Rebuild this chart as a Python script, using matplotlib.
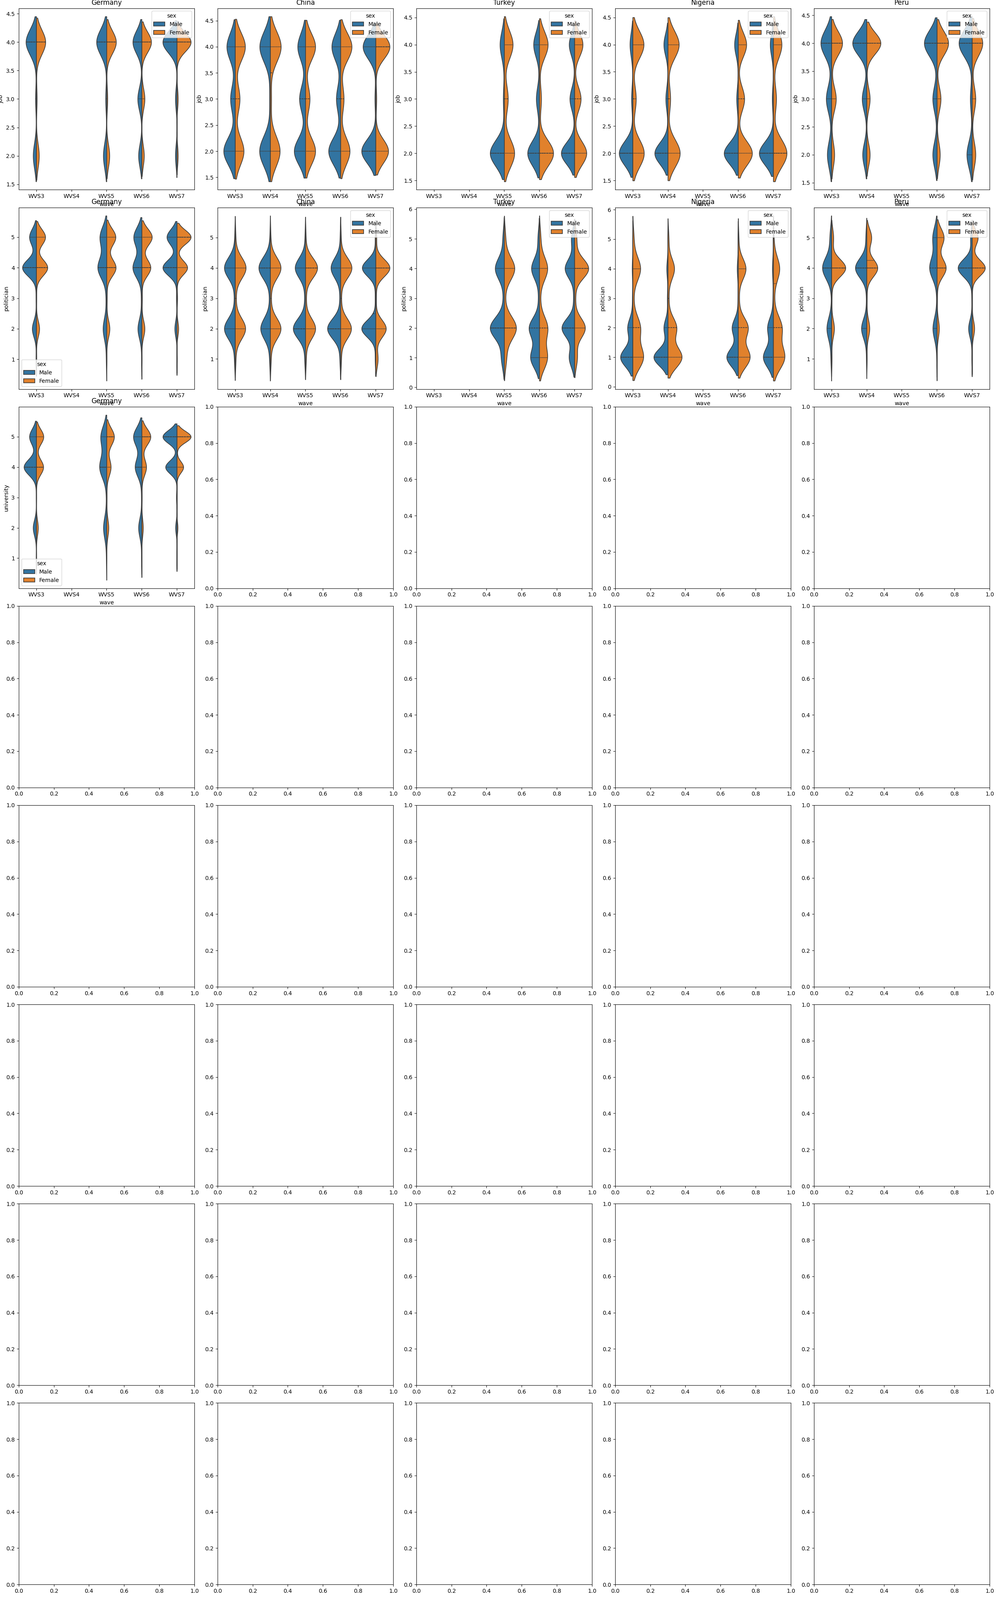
import numpy as np
import pandas as pd
import matplotlib
matplotlib.use("Agg")
import matplotlib.pyplot as plt
import seaborn as sns

waves = ["WVS3", "WVS4", "WVS5", "WVS6", "WVS7"]
sexes = ["Male", "Female"]

job_values = [2, 3, 4]
scale_values = [1, 2, 3, 4, 5]

# waves that exist for each country
germany_waves = ["WVS3", "WVS5", "WVS6", "WVS7"]
china_waves = ["WVS3", "WVS4", "WVS5", "WVS6", "WVS7"]
turkey_waves = ["WVS5", "WVS6", "WVS7"]
nigeria_waves = ["WVS3", "WVS4", "WVS6", "WVS7"]
peru_waves = ["WVS3", "WVS4", "WVS6", "WVS7"]

# answer counts per value (job: 2,3,4), one row per wave
germany_job_male = [[150, 41, 490], [166, 51, 505], [192, 240, 529], [32, 32, 293]]
germany_job_female = [[198, 45, 657], [270, 86, 874], [207, 259, 829], [30, 30, 369]]
china_job_male = [[220, 89, 160], [222, 14, 218], [196, 104, 135], [266, 94, 195], [723, 43, 652]]
china_job_female = [[161, 87, 187], [194, 21, 215], [231, 102, 231], [218, 78, 264], [725, 47, 803]]
turkey_job_male = [[361, 25, 109], [514, 135, 253], [701, 246, 283]]
turkey_job_female = [[236, 89, 200], [502, 70, 308], [405, 216, 279]]
nigeria_job_male = [[350, 32, 72], [788, 127, 244], [702, 77, 182], [477, 37, 106]]
nigeria_job_female = [[315, 93, 307], [372, 79, 341], [397, 178, 235], [300, 67, 188]]
peru_job_male = [[86, 107, 217], [113, 126, 391], [102, 102, 306], [164, 57, 409]]
peru_job_female = [[84, 131, 310], [154, 154, 653], [100, 124, 366], [115, 115, 343]]

# answer counts per value (1..5)
germany_pol_male = [[11, 118, 11, 400, 198], [7, 60, 10, 147, 111], [7, 88, 12, 201, 181], [4, 35, 9, 229, 163]]
germany_pol_female = [[9, 110, 9, 400, 322], [7, 97, 14, 291, 284], [8, 104, 16, 312, 360], [8, 46, 15, 300, 400]]
china_pol_male = [[8, 118, 8, 118, 5], [7, 94, 7, 112, 4], [9, 152, 9, 128, 6], [9, 162, 9, 119, 6], [15, 355, 15, 340, 15]]
china_pol_female = [[7, 115, 9, 120, 6], [8, 118, 8, 118, 5], [9, 128, 9, 153, 6], [9, 137, 9, 143, 6], [82, 379, 20, 512, 31]]
turkey_pol_male = [[33, 162, 10, 104, 16], [208, 243, 21, 187, 35], [182, 428, 32, 321, 107]]
turkey_pol_female = [[20, 112, 7, 97, 12], [139, 144, 14, 144, 23], [54, 210, 18, 276, 42]]
nigeria_pol_male = [[62, 26, 2, 3, 1], [189, 54, 8, 16, 3], [103, 55, 3, 9, 2], [75, 43, 3, 7, 2]]
nigeria_pol_female = [[177, 126, 14, 130, 19], [272, 169, 18, 127, 18], [213, 179, 17, 140, 11], [119, 90, 9, 67, 6]]
peru_pol_male = [[12, 84, 3, 162, 29], [6, 88, 6, 190, 15], [7, 90, 7, 161, 93], [7, 60, 7, 235, 27]]
peru_pol_female = [[5, 38, 5, 194, 27], [10, 79, 10, 294, 131], [4, 44, 7, 178, 137], [5, 54, 5, 297, 134]]

germany_uni_male = [[8, 106, 8, 410, 228], [6, 61, 6, 134, 112], [13, 110, 13, 226, 283], [9, 43, 17, 353, 438]]
germany_uni_female = [[10, 107, 10, 417, 427], [8, 111, 16, 237, 418], [6, 56, 12, 186, 360], [14, 57, 14, 425, 908]]


def make_frame(col, values, wave_list, male_counts, female_counts):
    parts = []
    for sex, counts in (("Male", male_counts), ("Female", female_counts)):
        for w, c in zip(wave_list, counts):
            parts.append(pd.DataFrame({"wave": w, "sex": sex,
                                       col: np.repeat(values, c).astype(float)}))
    return pd.concat(parts, ignore_index=True)


# (row, col, country, variable, values, waves, male, female, legend loc)
panels = [
    (0, 0, "Germany", "job", job_values, germany_waves, germany_job_male, germany_job_female, "upper right"),
    (0, 1, "China", "job", job_values, china_waves, china_job_male, china_job_female, "upper right"),
    (0, 2, "Turkey", "job", job_values, turkey_waves, turkey_job_male, turkey_job_female, "upper right"),
    (0, 3, "Nigeria", "job", job_values, nigeria_waves, nigeria_job_male, nigeria_job_female, "upper right"),
    (0, 4, "Peru", "job", job_values, peru_waves, peru_job_male, peru_job_female, "upper right"),
    (1, 0, "Germany", "politician", scale_values, germany_waves, germany_pol_male, germany_pol_female, "lower left"),
    (1, 1, "China", "politician", scale_values, china_waves, china_pol_male, china_pol_female, "upper right"),
    (1, 2, "Turkey", "politician", scale_values, turkey_waves, turkey_pol_male, turkey_pol_female, "upper right"),
    (1, 3, "Nigeria", "politician", scale_values, nigeria_waves, nigeria_pol_male, nigeria_pol_female, "upper right"),
    (1, 4, "Peru", "politician", scale_values, peru_waves, peru_pol_male, peru_pol_female, "upper right"),
    (2, 0, "Germany", "university", scale_values, germany_waves, germany_uni_male, germany_uni_female, "lower left"),
]

fig, axes = plt.subplots(8, 5, figsize=(25, 40))
# layout is fixed while the axes are still empty
fig.tight_layout()

for r, c, country, col, values, wave_list, male, female, loc in panels:
    ax = axes[r, c]
    df = make_frame(col, values, wave_list, male, female)
    sns.violinplot(data=df, x="wave", y=col, hue="sex", split=True, inner="quart",
                   order=waves, hue_order=sexes, ax=ax)
    ax.set_title(country)
    sns.move_legend(ax, loc)

fig.savefig("out.png", dpi=100)
